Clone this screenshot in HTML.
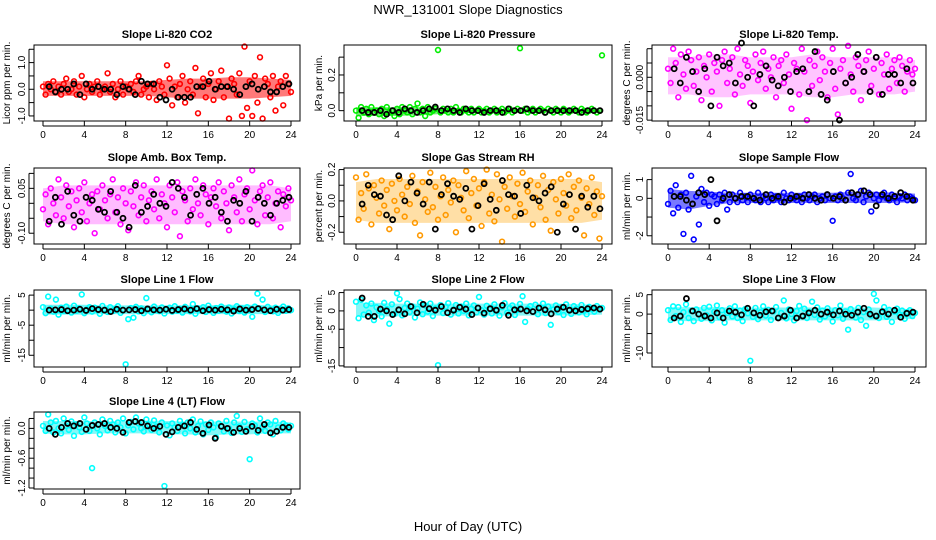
<!DOCTYPE html>
<html><head><meta charset="utf-8"><style>
body{margin:0;background:#fff;}
svg{display:block;font-family:"Liberation Sans",sans-serif;}
</style></head><body>
<svg id="chart" width="936" height="540" viewBox="0 0 936 540">
<text x="468" y="14" text-anchor="middle" font-size="13">NWR_131001  Slope Diagnostics</text>
<text x="468" y="531" text-anchor="middle" font-size="13">Hour of Day (UTC)</text>
</svg>
<script>
const hourTicks = [0,4,8,12,16,20,24];
const coreHours = [0,2,4,6,8,10,12,14,16,18,20,22,24];
const co2CoreLo = [-0.25,-0.25,-0.25,-0.25,-0.25,-0.25,-0.3,-0.35,-0.35,-0.35,-0.35,-0.3,-0.25];
const co2CoreHi = [0.3,0.3,0.3,0.3,0.3,0.3,0.35,0.4,0.4,0.45,0.45,0.4,0.35];
const co2Vals = [0.1,-0.2,0.2,0.0,0.3,-0.1,0.1,-0.2,0.2,0.4,-0.1,0.0,0.3,-0.2,0.1,0.5,-0.3,0.0,0.2,-0.1,0.1,0.3,-0.2,0.0,0.1,0.6,-0.1,0.2,-0.3,0.0,0.3,-0.2,0.1,0.0,0.2,-0.1,0.3,0.5,-0.2,0.0,0.1,-0.3,0.2,0.0,-0.4,0.3,0.1,-0.2,0.9,0.4,-0.6,0.1,-0.3,0.2,0.5,-0.5,0.0,0.3,-0.2,0.8,-0.9,0.1,0.4,-0.3,0.2,0.6,-0.4,0.0,0.3,0.7,-0.3,0.1,-1.1,0.4,0.2,-0.2,0.6,-1.0,1.6,-0.7,0.3,-1.0,0.5,-0.5,1.2,-1.1,0.4,0.2,-0.3,0.5,-0.8,0.1,0.3,-0.6,0.5,0.2,-0.1];
const co2Blk = [0.1,-0.1,0.0,0.0,0.2,-0.2,0.2,0.0,0.1,0.0,0.0,-0.2,0.1,0.0,-0.2,0.3,0.2,0.2,-0.3,-0.4,0.0,-0.3,-0.3,-0.3,0.1,0.1,0.3,0.0,0.1,0.1,0.0,-0.2,0.1,0.2,0.0,0.1,-0.1,-0.1,0.1,0.2];
const presCoreLo = [-0.03,-0.03,-0.03,-0.025,-0.02,-0.015,-0.012,-0.012,-0.012,-0.01,-0.01,-0.01,-0.01];
const presCoreHi = [0.02,0.02,0.02,0.02,0.015,0.012,0.01,0.01,0.01,0.008,0.008,0.008,0.008];
const presVals = [0.00,-0.04,0.02,-0.01,0.01,-0.02,0.02,-0.01,0.00,-0.02,0.01,-0.03,0.02,-0.01,0.00,-0.03,0.01,-0.02,0.02,0.00,-0.01,0.02,-0.02,0.01,0.04,-0.01,0.01,-0.03,0.02,-0.01,0.00,0.01,0.34,-0.01,0.01,0.00,-0.01,0.01,-0.01,0.02,0.00,-0.01,0.01,0.00,-0.01,0.01,-0.01,0.00,0.01,-0.01,0.00,0.01,-0.01,0.00,0.01,-0.01,0.00,0.01,-0.01,0.00,0.01,-0.01,0.00,0.01,0.35,0.00,0.01,-0.01,0.00,0.01,-0.01,0.00,0.01,0.00,-0.01,0.01,0.00,-0.01,0.01,0.00,-0.01,0.01,0.00,-0.01,0.00,0.01,0.00,-0.01,0.01,0.00,-0.01,0.00,0.01,0.00,-0.01,0.00,0.31];
const presBlk = [0.00,-0.01,-0.01,0.00,-0.02,0.00,-0.01,0.01,0.00,-0.01,0.00,0.01,0.02,0.00,0.01,0.00,-0.01,0.01,0.00,0.00,-0.01,0.00,0.00,-0.01,0.01,0.00,0.00,0.01,0.00,0.00,-0.01,0.00,0.00,0.00,0.00,0.00,-0.01,0.00,0.00,0.00];
const tempCoreLo = [-0.006,-0.006,-0.007,-0.007,-0.006,-0.006,-0.006,-0.007,-0.007,-0.006,-0.006,-0.006,-0.005];
const tempCoreHi = [0.007,0.007,0.008,0.008,0.007,0.007,0.007,0.008,0.007,0.007,0.007,0.007,0.006];
const tempVals = [0.003,-0.002,0.010,0.005,-0.007,0.008,0.001,-0.004,0.009,0.006,-0.003,0.002,0.007,-0.008,0.004,0.000,0.008,-0.005,0.005,0.002,-0.010,0.006,0.009,-0.002,0.003,0.007,-0.006,0.010,0.001,-0.003,0.006,0.004,-0.009,0.002,0.008,-0.001,0.005,0.009,-0.004,0.003,0.000,0.007,-0.007,0.004,0.006,-0.002,0.008,0.001,-0.011,0.005,0.003,-0.006,0.010,0.002,-0.015,0.006,-0.003,0.004,0.009,-0.001,0.007,0.002,-0.007,0.005,0.010,-0.004,-0.013,0.003,0.006,-0.002,0.011,0.001,-0.005,0.007,0.004,-0.008,0.002,0.006,0.009,-0.003,0.003,0.007,-0.006,0.005,0.001,0.008,-0.004,0.003,0.006,-0.002,0.007,0.004,-0.005,0.002,0.006,0.001,0.003];
const tempBlk = [0.003,-0.002,0.007,0.002,-0.005,0.003,-0.010,0.007,0.004,0.005,-0.002,0.012,0.000,-0.010,0.001,0.004,-0.001,-0.003,0.000,-0.005,0.002,0.003,-0.005,0.009,-0.006,-0.008,0.002,-0.015,-0.002,0.000,0.008,0.002,-0.005,0.007,-0.006,0.001,0.001,-0.002,0.003,-0.002];
const ambCoreLo = [-0.06,-0.07,-0.07,-0.07,-0.07,-0.07,-0.07,-0.07,-0.07,-0.07,-0.07,-0.07,-0.06];
const ambCoreHi = [0.05,0.06,0.06,0.06,0.06,0.06,0.06,0.06,0.06,0.06,0.06,0.06,0.05];
const ambVals = [-0.02,0.03,-0.07,0.05,0.00,-0.04,0.08,0.02,-0.05,0.06,-0.01,0.04,-0.08,0.01,0.05,-0.03,0.07,-0.06,0.00,0.03,-0.10,0.04,-0.02,0.06,0.01,-0.05,0.03,0.08,-0.03,0.02,-0.07,0.05,0.00,-0.09,0.04,-0.01,0.07,-0.04,0.02,0.06,-0.06,0.01,0.04,-0.02,0.08,-0.05,0.03,0.00,-0.08,0.06,0.02,-0.03,0.07,-0.11,0.04,0.01,-0.06,0.05,-0.02,0.08,0.00,-0.04,0.06,0.03,-0.07,0.02,0.05,-0.01,0.07,-0.05,0.04,0.00,-0.09,0.06,0.02,-0.03,0.08,-0.06,0.03,0.05,-0.02,0.11,0.01,-0.07,0.04,0.06,-0.04,0.02,0.07,-0.05,0.00,0.04,-0.08,0.03,-0.01,0.05,0.01];
const ambBlk = [-0.06,0.02,-0.07,0.04,-0.04,-0.06,0.02,0.01,-0.02,-0.03,0.04,-0.03,-0.05,-0.08,0.06,-0.03,-0.01,0.03,0.00,-0.01,0.07,0.05,0.02,-0.04,0.03,0.05,0.00,0.02,-0.03,-0.06,0.01,0.00,0.04,-0.06,0.02,0.00,-0.04,0.00,0.01,0.02];
const rhCoreLo = [-0.12,-0.14,-0.14,-0.14,-0.14,-0.14,-0.14,-0.14,-0.14,-0.14,-0.14,-0.14,-0.12];
const rhCoreHi = [0.12,0.14,0.14,0.14,0.14,0.14,0.14,0.14,0.14,0.14,0.14,0.14,0.12];
const rhVals = [0.15,-0.12,0.05,-0.05,0.17,0.08,-0.15,0.10,0.02,-0.08,0.13,-0.03,0.07,-0.18,0.11,0.00,-0.06,0.14,0.04,-0.10,0.09,-0.02,0.16,-0.14,0.06,-0.22,0.12,0.01,-0.07,0.18,-0.04,0.09,-0.12,0.03,0.15,-0.09,0.07,-0.01,0.13,-0.20,0.10,0.02,-0.06,0.19,-0.11,0.05,0.14,-0.03,0.08,-0.16,0.12,0.20,-0.08,0.04,-0.13,0.17,0.01,-0.26,0.09,-0.05,0.15,0.03,-0.10,0.11,-0.02,0.18,-0.07,0.06,0.13,-0.15,0.02,0.10,-0.04,0.16,-0.12,0.07,-0.19,0.12,0.01,-0.08,0.14,0.05,-0.03,0.17,-0.11,0.09,-0.06,0.13,0.02,-0.22,0.08,-0.02,0.15,-0.09,0.06,-0.24,0.03];
const rhBlk = [-0.02,0.10,0.04,0.03,-0.09,-0.12,0.16,0.00,0.12,0.05,-0.02,0.12,-0.18,0.04,0.11,0.03,0.01,0.08,-0.18,-0.03,0.11,0.01,-0.06,0.13,0.04,0.03,-0.08,0.10,0.02,0.00,0.05,0.09,-0.20,-0.02,0.04,-0.18,0.03,-0.04,0.03,-0.05];
const sampCoreLo = [-0.5,-0.6,-0.4,-0.25,-0.25,-0.25,-0.25,-0.25,-0.25,-0.25,-0.25,-0.25,-0.2];
const sampCoreHi = [0.5,0.4,0.35,0.3,0.3,0.3,0.3,0.3,0.3,0.35,0.35,0.3,0.25];
const sampVals = [-0.3,0.4,-0.8,0.7,-0.5,0.2,-1.9,0.3,-0.6,1.2,-2.2,0.1,-1.4,0.5,-0.2,0.3,-0.4,0.2,0.1,-0.3,0.2,-0.1,0.3,-0.6,-0.2,0.2,0.0,-0.2,0.3,-0.1,0.1,-0.2,0.2,0.0,-0.1,0.3,-0.2,0.1,0.0,-0.2,0.2,-0.1,0.1,0.0,-0.2,0.3,0.0,-0.1,0.2,0.0,-0.1,0.1,-0.2,0.2,0.0,-0.1,0.1,0.2,-0.2,0.0,0.1,-0.1,0.2,0.0,-1.2,0.1,-0.1,0.2,0.0,-0.1,0.3,1.3,0.0,-0.1,0.2,0.4,-0.2,0.1,0.3,-0.7,0.0,0.2,-0.1,0.1,0.3,0.0,-0.1,0.2,0.0,-0.2,0.1,0.0,0.2,-0.1,0.1,0.0,-0.1];
const sampBlk = [0.1,0.1,-0.1,-0.3,0.3,0.2,1.0,-1.2,0.0,0.2,0.0,0.1,0.1,0.0,-0.1,0.2,0.0,0.1,-0.2,0.0,0.1,0.0,0.2,0.0,-0.1,0.2,0.0,0.1,-0.1,0.3,0.2,0.4,0.2,-0.4,0.2,0.0,0.1,0.3,0.1,-0.1];
const l1CoreLo = [-1.5,-1.5,-1.5,-1.3,-1.3,-1.3,-1.3,-1.3,-1.3,-1.3,-1.3,-1.3,-1.2];
const l1CoreHi = [1.8,1.8,1.8,1.6,1.6,1.6,1.6,1.6,1.6,1.8,1.8,1.6,1.4];
const l1Vals = [1.0,-1.0,4.5,0.5,-0.5,3.5,-1.5,0.8,-0.3,1.2,0.0,-0.8,1.5,-0.2,0.6,5.2,-1.0,0.3,1.0,-0.5,0.8,0.0,-1.2,1.4,0.2,-0.6,1.0,-0.3,0.5,1.3,-0.9,0.1,-18.0,-3.0,0.7,-2.5,1.1,-0.4,0.6,-1.0,4.0,0.3,-0.7,1.2,0.0,-0.3,0.9,-1.1,0.4,0.8,-0.5,1.3,-0.2,0.5,-0.8,1.1,0.2,-0.4,2.0,-1.2,0.6,0.0,1.0,-0.6,1.5,0.3,-0.9,0.7,-0.2,1.2,0.1,-0.5,0.9,-1.1,0.4,1.3,-0.3,0.6,-0.8,1.0,0.0,-2.2,1.2,5.5,0.5,3.5,-0.6,1.1,0.2,-0.4,0.8,-0.9,0.5,1.2,-0.2,0.6,0.0];
const l1Blk = [0.0,0.1,0.2,-0.2,0.0,0.3,-0.1,0.5,0.2,0.0,-0.5,0.3,0.0,0.1,0.2,-0.2,0.4,0.1,0.0,0.3,-0.1,0.2,0.4,0.0,0.5,-0.2,0.2,0.0,0.3,0.1,-0.3,0.4,0.0,0.2,0.5,0.1,-0.2,0.3,0.0,0.2];
const l2CoreLo = [-1.5,-1.5,-1.5,-1.3,-1.3,-1.3,-1.3,-1.3,-1.3,-1.3,-1.3,-1.2,-1.0];
const l2CoreHi = [2.2,2.2,2.0,2.0,2.0,2.0,2.0,2.0,2.0,2.0,2.0,1.8,1.5];
const l2Vals = [2.5,-2.0,3.0,-1.0,1.5,-0.5,2.0,-2.5,1.0,0.0,-1.5,2.2,0.5,-3.5,1.8,-0.8,4.8,3.2,-1.2,0.8,2.0,-0.3,1.2,-1.8,0.6,2.3,-0.9,1.5,-0.2,2.0,-1.4,0.7,-14.8,1.6,-0.6,1.1,2.1,-1.0,0.4,1.6,-0.7,1.2,0.0,2.0,-1.2,0.6,1.5,-0.4,3.8,0.2,-1.0,1.4,0.5,-0.7,1.8,0.0,-1.3,1.0,2.1,-0.5,0.8,1.5,-1.1,0.3,1.9,4.0,-3.0,0.6,1.3,-0.2,1.7,-0.9,0.9,2.0,-0.6,1.2,-3.8,0.4,1.5,-0.3,1.0,-1.1,1.8,0.2,-0.8,1.3,0.6,-0.4,1.6,0.0,-0.9,1.1,0.5,-0.2,1.3,0.4,0.8];
const l2Blk = [3.5,-1.5,-1.5,0.5,0.0,-1.0,0.3,-0.8,1.2,-0.5,1.8,0.6,0.2,1.2,-0.5,0.2,1.0,0.5,-1.0,0.8,-0.6,0.6,0.2,1.5,-1.2,0.3,0.5,0.0,-0.2,0.8,0.3,-0.8,0.5,1.0,0.2,0.0,0.4,0.6,0.8,0.5];
const l3CoreLo = [-1.8,-1.8,-1.8,-1.6,-1.6,-1.6,-1.6,-1.6,-1.6,-1.6,-1.6,-1.5,-1.2];
const l3CoreHi = [1.8,1.8,1.8,1.7,1.7,1.7,1.7,1.7,1.7,1.7,1.7,1.5,1.2];
const l3Vals = [1.0,-1.5,2.0,-0.5,1.8,-2.0,0.5,2.5,-1.0,0.8,-1.8,1.2,0.0,-1.2,1.6,-0.3,1.9,-1.6,0.6,2.2,-0.8,1.0,-2.2,0.3,1.5,-0.6,2.0,-1.0,0.9,-1.8,1.3,0.2,-12.0,-0.7,1.6,-1.3,0.5,2.0,-0.4,1.1,-1.5,0.7,1.8,-0.9,0.3,3.5,-1.1,1.2,0.0,-1.6,0.8,2.1,-0.5,1.4,-1.0,0.6,3.2,-0.2,1.7,-1.4,0.9,-0.6,1.5,0.1,-1.9,1.0,-0.3,2.2,-1.2,0.7,-4.0,1.3,0.2,-0.9,1.6,-1.5,0.5,-3.0,1.2,-0.4,5.2,3.5,-1.0,0.4,1.8,-0.7,1.1,-2.0,0.6,1.4,-0.2,0.9,-1.2,0.5,1.0,-0.5,0.3];
const l3Blk = [-1.0,-0.5,4.0,0.8,0.0,-0.5,-1.0,0.3,-1.0,0.8,0.5,-0.2,1.5,0.3,-0.3,0.6,0.8,-1.0,-0.5,1.0,-1.0,-0.5,0.3,1.0,0.0,0.5,-0.2,0.8,0.0,-0.3,0.5,1.5,0.0,-0.5,0.6,0.0,1.0,-0.8,0.2,0.5];
const l4CoreLo = [-0.1,-0.12,-0.12,-0.1,-0.1,-0.1,-0.12,-0.12,-0.14,-0.12,-0.12,-0.1,-0.1];
const l4CoreHi = [0.15,0.15,0.15,0.14,0.15,0.16,0.15,0.14,0.14,0.14,0.14,0.14,0.12];
const l4Vals = [0.05,-0.05,0.28,0.12,-0.08,0.15,0.00,-0.10,0.20,0.05,-0.03,0.14,-0.15,0.08,0.02,-0.07,0.22,0.10,-0.05,-0.80,0.12,0.00,-0.12,0.18,0.05,-0.04,0.15,0.08,-0.08,0.12,0.02,0.20,-0.10,0.06,0.13,-0.02,0.22,0.10,0.00,-0.06,0.18,0.08,-0.03,0.16,0.04,-0.08,0.12,-1.16,0.06,-0.14,0.10,0.02,-0.05,0.15,0.07,-0.10,0.12,0.00,0.18,-0.08,0.05,0.14,-0.12,0.08,-0.03,0.12,0.02,-0.18,0.10,0.05,-0.06,0.15,0.00,-0.09,0.12,0.25,0.04,-0.07,0.13,-0.02,-0.62,0.10,0.06,-0.08,0.20,0.03,-0.05,0.12,0.08,-0.12,0.15,0.02,-0.04,0.10,0.06,-0.02,0.05];
const l4Blk = [0.00,-0.12,0.02,0.10,0.05,0.10,-0.02,0.06,0.08,0.10,0.02,0.00,-0.08,0.12,0.14,0.12,0.05,0.00,0.04,-0.12,-0.07,0.02,0.05,0.12,-0.02,-0.10,0.07,-0.20,0.04,0.00,-0.08,0.00,-0.06,0.04,-0.04,0.08,-0.09,-0.06,0.02,0.02];

const NS = "http://www.w3.org/2000/svg";
const svg = document.getElementById("chart");
function mk(tag, attrs, parent){
  const e = document.createElementNS(NS, tag);
  for (const k in attrs) e.setAttribute(k, attrs[k]);
  (parent || svg).appendChild(e);
  return e;
}
const cols = [{l:34,r:300,x0:43,x24:291,yt:10},{l:344,r:612,x0:356,x24:602,yt:322},{l:652,r:926,x0:668,x24:915,yt:630}];
const rows = [{t:45,b:121},{t:168,b:244},{t:290,b:367},{t:412,b:489}];
const panels = [
 {id:"co2",title:"Slope Li-820 CO2",yl:"Licor ppm per min.",c:0,r:0,lo:-1.19,hi:1.66,ticks:[-1,-0.5,0,0.5,1,1.5],labs:["-1.0","","0.0","","1.0",""],col:"#ff0000",band:"#ff2020",op:0.6,vals:co2Vals,blk:co2Blk,cLo:co2CoreLo,cHi:co2CoreHi},
 {id:"pressure",title:"Slope Li-820 Pressure",yl:"kPa per min.",c:1,r:0,lo:-0.058,hi:0.368,ticks:[0,0.1,0.2,0.3],labs:["0.0","","0.2",""],col:"#00ee00",band:"#20e020",op:0.6,vals:presVals,blk:presBlk,cLo:presCoreLo,cHi:presCoreHi},
 {id:"temp",title:"Slope Li-820 Temp.",yl:"degrees C per min.",c:2,r:0,lo:-0.0153,hi:0.0113,ticks:[-0.015,-0.01,-0.005,0,0.005,0.01],labs:["-0.015","","","0.000","",""],col:"#ff00ff",band:"#ff40ff",op:0.3,vals:tempVals,blk:tempBlk,cLo:tempCoreLo,cHi:tempCoreHi},
 {id:"amb-temp",title:"Slope Amb. Box Temp.",yl:"degrees C per min.",c:0,r:1,lo:-0.136,hi:0.118,ticks:[-0.1,-0.05,0,0.05,0.1],labs:["-0.10","","","0.05",""],col:"#ff00ff",band:"#ff40ff",op:0.35,vals:ambVals,blk:ambBlk,cLo:ambCoreLo,cHi:ambCoreHi},
 {id:"rh",title:"Slope Gas Stream RH",yl:"percent per min.",c:1,r:1,lo:-0.275,hi:0.21,ticks:[-0.2,-0.1,0,0.1,0.2],labs:["-0.2","","0.0","","0.2"],col:"#ff9900",band:"#ffb020",op:0.4,vals:rhVals,blk:rhBlk,cLo:rhCoreLo,cHi:rhCoreHi},
 {id:"sample-flow",title:"Slope Sample Flow",yl:"ml/min per min.",c:2,r:1,lo:-2.44,hi:1.62,ticks:[-2,-1,0,1],labs:["-2","","0","1"],col:"#0000ff",band:"#2020ff",op:0.6,vals:sampVals,blk:sampBlk,cLo:sampCoreLo,cHi:sampCoreHi},
 {id:"line1",title:"Slope Line 1 Flow",yl:"ml/min per min.",c:0,r:2,lo:-18.9,hi:6.7,ticks:[-15,-10,-5,0,5],labs:["-15","","-5","","5"],col:"#00ffff",band:"#20f0f0",op:0.6,vals:l1Vals,blk:l1Blk,cLo:l1CoreLo,cHi:l1CoreHi},
 {id:"line2",title:"Slope Line 2 Flow",yl:"ml/min per min.",c:1,r:2,lo:-15.3,hi:5.7,ticks:[-15,-10,-5,0,5],labs:["-15","","-5","0","5"],col:"#00ffff",band:"#20f0f0",op:0.55,vals:l2Vals,blk:l2Blk,cLo:l2CoreLo,cHi:l2CoreHi},
 {id:"line3",title:"Slope Line 3 Flow",yl:"ml/min per min.",c:2,r:2,lo:-13.6,hi:6.2,ticks:[-10,-5,0,5],labs:["-10","","0","5"],col:"#00ffff",band:"#20f0f0",op:0.55,vals:l3Vals,blk:l3Blk,cLo:l3CoreLo,cHi:l3CoreHi},
 {id:"line4",title:"Slope Line 4 (LT) Flow",yl:"ml/min per min.",c:0,r:3,lo:-1.22,hi:0.33,ticks:[-1.2,-1.0,-0.8,-0.6,-0.4,-0.2,0,0.2],labs:["-1.2","","","-0.6","","","0.0",""],col:"#00ffff",band:"#20f0f0",op:0.55,vals:l4Vals,blk:l4Blk,cLo:l4CoreLo,cHi:l4CoreHi}
];

panels.forEach(p => {
  const C = cols[p.c], R = rows[p.r];
  const g = mk("g", {});
  
  
  const xs = h => C.x0 + h / 24 * (C.x24 - C.x0);
  const ys = v => R.b - (v - p.lo) / (p.hi - p.lo) * (R.b - R.t);
  const t = mk("text", {x:(C.l + C.r) / 2, y:R.t - 7, "text-anchor":"middle", "font-size":"11", "font-weight":"bold"}, g);
  t.textContent = p.title;
  
  
  const yt = mk("text", {x:0, y:0, transform:`translate(${C.yt},${(R.t + R.b) / 2}) rotate(-90)`, "text-anchor":"middle", "font-size":"10"}, g);
  yt.textContent = p.yl;
  
  
  let pts = coreHours.map((h, i) => `${xs(h)},${ys(p.cHi[i])}`);
  for (let i = coreHours.length - 1; i >= 0; i--) pts.push(`${xs(coreHours[i])},${ys(p.cLo[i])}`);
  const band = mk("polygon", {points:pts.join(" "), fill:p.band, "fill-opacity":p.op, stroke:"none"}, g);
  
  
  const pg = mk("g", {}, g);
  
  
  p.vals.forEach((v, i) => {
    const h = i * 24 / (p.vals.length - 1);
    const c = mk("circle", {cx:xs(h), cy:ys(v), r:2.4, fill:"none", stroke:p.col, "stroke-width":1.6}, pg);
    
    
  });
  const bg = mk("g", {}, g);
  
  
  p.blk.forEach((v, i) => {
    const h = 0.6 + i * (23.2) / (p.blk.length - 1);
    const c = mk("circle", {cx:xs(h), cy:ys(v), r:2.5, fill:"none", stroke:"#000", "stroke-width":1.8}, bg);
    
    
  });
  const box = mk("rect", {x:C.l, y:R.t, width:C.r - C.l, height:R.b - R.t, fill:"none", stroke:"#000", "stroke-width":1}, g);
  
  
  hourTicks.forEach(h => {
    const x = xs(h);
    mk("line", {x1:x, x2:x, y1:R.b, y2:R.b + 5, stroke:"#000"}, g);
    const lt = mk("text", {x:x, y:R.b + 17, "text-anchor":"middle", "font-size":"10"}, g);
    lt.textContent = h;
    
    
  });
  mk("line", {x1:xs(0), x2:xs(24), y1:R.b + 5, y2:R.b + 5, stroke:"#000"}, g);
  p.ticks.forEach((v, i) => {
    const y = ys(v);
    mk("line", {x1:C.l - 5, x2:C.l, y1:y, y2:y, stroke:"#000"}, g);
    if (p.labs[i]) {
      const lt = mk("text", {x:0, y:0, transform:`translate(${C.l - 9},${y}) rotate(-90)`, "text-anchor":"middle", "font-size":"10"}, g);
      lt.textContent = p.labs[i];
      
      
    }
  });
  mk("line", {x1:C.l - 5, x2:C.l - 5, y1:ys(p.ticks[0]), y2:ys(p.ticks[p.ticks.length - 1]), stroke:"#000"}, g);
});
</script>
</body></html>
